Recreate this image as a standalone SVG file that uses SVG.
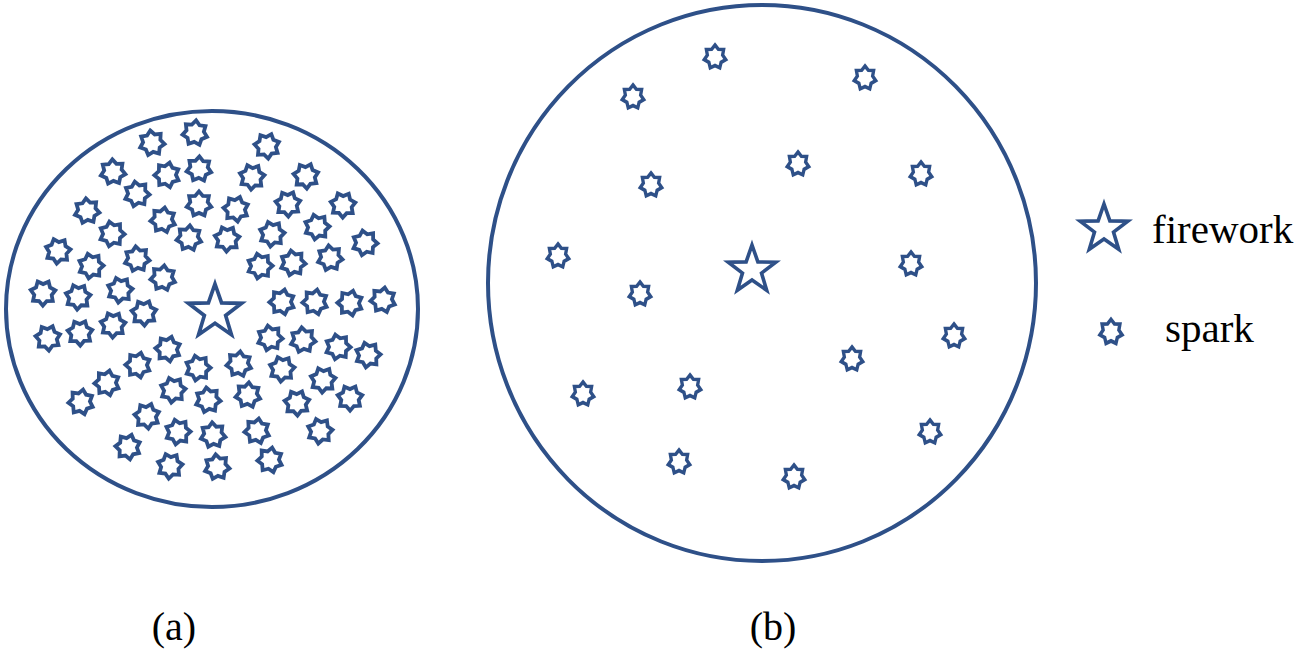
<svg xmlns="http://www.w3.org/2000/svg" xmlns:xlink="http://www.w3.org/1999/xlink" width="1300" height="650" viewBox="0 0 1300 650">
<style>
.ring{fill:none;stroke:#2E5088;stroke-width:4}
.sp{fill:#fff;stroke:#2E5088;stroke-width:3.6;stroke-linejoin:miter}
.fw{fill:#fff;stroke:#2E5088;stroke-width:3.6;stroke-linejoin:miter}
.lbl{font-family:"Liberation Serif","Times New Roman",serif;fill:#000}
</style>
<defs>
<path id="spark" d="M0,-12 L3.69,-7.66 L9.38,-7.48 L8.29,-1.89 L11.70,2.67 L6.64,5.30 L5.21,10.81 L0,8.5 L-5.21,10.81 L-6.64,5.30 L-11.70,2.67 L-8.29,-1.89 L-9.38,-7.48 L-3.69,-7.66 Z"/>
<path id="star5" d="M0,-25 L5.88,-8.09 L23.78,-7.73 L9.51,3.09 L14.69,20.23 L0,10 L-14.69,20.23 L-9.51,3.09 L-23.78,-7.73 L-5.88,-8.09 Z"/>
</defs>
<rect width="1300" height="650" fill="#fff"/>
<g id="panel-a">
<ellipse class="ring" cx="212" cy="309" rx="206" ry="198"/>
<g id="firework-a"><use xlink:href="#star5" class="fw" transform="translate(215,312) scale(1.12)" style="stroke-width:3.3"/></g>
<g id="sparks-a" class="sp">
<use xlink:href="#spark" transform="translate(195,133) rotate(5) scale(1.05)"/>
<use xlink:href="#spark" transform="translate(152,143) rotate(-8) scale(1.05)"/>
<use xlink:href="#spark" transform="translate(267,146) rotate(20) scale(1.05)"/>
<use xlink:href="#spark" transform="translate(113,172) rotate(-3) scale(1.05)"/>
<use xlink:href="#spark" transform="translate(167,175) rotate(12) scale(1.05)"/>
<use xlink:href="#spark" transform="translate(199,169) rotate(2) scale(1.05)"/>
<use xlink:href="#spark" transform="translate(252,177) rotate(30) scale(1.05)"/>
<use xlink:href="#spark" transform="translate(306,176) rotate(22) scale(1.05)"/>
<use xlink:href="#spark" transform="translate(137,194) rotate(-10) scale(1.05)"/>
<use xlink:href="#spark" transform="translate(199,204) rotate(0) scale(1.05)"/>
<use xlink:href="#spark" transform="translate(236,209) rotate(18) scale(1.05)"/>
<use xlink:href="#spark" transform="translate(288,204) rotate(24) scale(1.05)"/>
<use xlink:href="#spark" transform="translate(343,205) rotate(27) scale(1.05)"/>
<use xlink:href="#spark" transform="translate(87,211) rotate(-5) scale(1.05)"/>
<use xlink:href="#spark" transform="translate(163,220) rotate(8) scale(1.05)"/>
<use xlink:href="#spark" transform="translate(112,234) rotate(-12) scale(1.05)"/>
<use xlink:href="#spark" transform="translate(189,238) rotate(4) scale(1.05)"/>
<use xlink:href="#spark" transform="translate(227,239) rotate(28) scale(1.05)"/>
<use xlink:href="#spark" transform="translate(272,234) rotate(33) scale(1.05)"/>
<use xlink:href="#spark" transform="translate(317,227) rotate(36) scale(1.05)"/>
<use xlink:href="#spark" transform="translate(365,243) rotate(40) scale(1.05)"/>
<use xlink:href="#spark" transform="translate(58,251) rotate(-20) scale(1.05)"/>
<use xlink:href="#spark" transform="translate(91,266) rotate(-15) scale(1.05)"/>
<use xlink:href="#spark" transform="translate(137,259) rotate(-6) scale(1.05)"/>
<use xlink:href="#spark" transform="translate(163,278) rotate(6) scale(1.05)"/>
<use xlink:href="#spark" transform="translate(260,266) rotate(38) scale(1.05)"/>
<use xlink:href="#spark" transform="translate(293,263) rotate(42) scale(1.05)"/>
<use xlink:href="#spark" transform="translate(330,258) rotate(45) scale(1.05)"/>
<use xlink:href="#spark" transform="translate(43,293) rotate(-25) scale(1.05)"/>
<use xlink:href="#spark" transform="translate(78,297) rotate(-22) scale(1.05)"/>
<use xlink:href="#spark" transform="translate(120,290) rotate(-18) scale(1.05)"/>
<use xlink:href="#spark" transform="translate(144,313) rotate(-28) scale(1.05)"/>
<use xlink:href="#spark" transform="translate(282,302) rotate(12) scale(1.05)"/>
<use xlink:href="#spark" transform="translate(315,302) rotate(10) scale(1.05)"/>
<use xlink:href="#spark" transform="translate(350,303) rotate(14) scale(1.05)"/>
<use xlink:href="#spark" transform="translate(383,300) rotate(8) scale(1.05)"/>
<use xlink:href="#spark" transform="translate(48,338) rotate(-30) scale(1.05)"/>
<use xlink:href="#spark" transform="translate(80,333) rotate(-27) scale(1.05)"/>
<use xlink:href="#spark" transform="translate(113,325) rotate(-24) scale(1.05)"/>
<use xlink:href="#spark" transform="translate(168,349) rotate(-35) scale(1.05)"/>
<use xlink:href="#spark" transform="translate(270,338) rotate(-10) scale(1.05)"/>
<use xlink:href="#spark" transform="translate(303,340) rotate(-6) scale(1.05)"/>
<use xlink:href="#spark" transform="translate(338,347) rotate(-12) scale(1.05)"/>
<use xlink:href="#spark" transform="translate(368,355) rotate(-16) scale(1.05)"/>
<use xlink:href="#spark" transform="translate(138,365) rotate(-38) scale(1.05)"/>
<use xlink:href="#spark" transform="translate(198,368) rotate(-14) scale(1.05)"/>
<use xlink:href="#spark" transform="translate(239,364) rotate(6) scale(1.05)"/>
<use xlink:href="#spark" transform="translate(282,369) rotate(-20) scale(1.05)"/>
<use xlink:href="#spark" transform="translate(107,383) rotate(-40) scale(1.05)"/>
<use xlink:href="#spark" transform="translate(323,380) rotate(-22) scale(1.05)"/>
<use xlink:href="#spark" transform="translate(173,390) rotate(-18) scale(1.05)"/>
<use xlink:href="#spark" transform="translate(350,398) rotate(-26) scale(1.05)"/>
<use xlink:href="#spark" transform="translate(81,402) rotate(-42) scale(1.05)"/>
<use xlink:href="#spark" transform="translate(208,400) rotate(-8) scale(1.05)"/>
<use xlink:href="#spark" transform="translate(248,395) rotate(4) scale(1.05)"/>
<use xlink:href="#spark" transform="translate(297,403) rotate(-28) scale(1.05)"/>
<use xlink:href="#spark" transform="translate(147,416) rotate(-32) scale(1.05)"/>
<use xlink:href="#spark" transform="translate(178,432) rotate(-15) scale(1.05)"/>
<use xlink:href="#spark" transform="translate(213,435) rotate(-4) scale(1.05)"/>
<use xlink:href="#spark" transform="translate(257,431) rotate(8) scale(1.05)"/>
<use xlink:href="#spark" transform="translate(320,431) rotate(-18) scale(1.05)"/>
<use xlink:href="#spark" transform="translate(128,447) rotate(-35) scale(1.05)"/>
<use xlink:href="#spark" transform="translate(170,466) rotate(-20) scale(1.05)"/>
<use xlink:href="#spark" transform="translate(217,467) rotate(-6) scale(1.05)"/>
<use xlink:href="#spark" transform="translate(270,460) rotate(10) scale(1.05)"/>
</g>
<text class="lbl" x="174" y="640" font-size="40" text-anchor="middle">(a)</text>
</g>
<g id="panel-b">
<ellipse class="ring" cx="762" cy="283" rx="274" ry="278"/>
<g id="firework-b"><use xlink:href="#star5" class="fw" transform="translate(752,270)"/></g>
<g id="sparks-b" class="sp">
<use xlink:href="#spark" transform="translate(715,57) scale(0.92,1)"/>
<use xlink:href="#spark" transform="translate(633,97) scale(0.92,1)"/>
<use xlink:href="#spark" transform="translate(865,78) scale(0.92,1)"/>
<use xlink:href="#spark" transform="translate(798,164) scale(0.92,1)"/>
<use xlink:href="#spark" transform="translate(651,185) scale(0.92,1)"/>
<use xlink:href="#spark" transform="translate(921,174) scale(0.92,1)"/>
<use xlink:href="#spark" transform="translate(558,256) scale(0.92,1)"/>
<use xlink:href="#spark" transform="translate(911,264) scale(0.92,1)"/>
<use xlink:href="#spark" transform="translate(640,294) scale(0.92,1)"/>
<use xlink:href="#spark" transform="translate(954,336) scale(0.92,1)"/>
<use xlink:href="#spark" transform="translate(852,359) scale(0.92,1)"/>
<use xlink:href="#spark" transform="translate(583,394) scale(0.92,1)"/>
<use xlink:href="#spark" transform="translate(690,387) scale(0.92,1)"/>
<use xlink:href="#spark" transform="translate(930,432) scale(0.92,1)"/>
<use xlink:href="#spark" transform="translate(679,462) scale(0.92,1)"/>
<use xlink:href="#spark" transform="translate(794,477) scale(0.92,1)"/>
</g>
<text class="lbl" x="773" y="640" font-size="40" text-anchor="middle">(b)</text>
</g>
<g id="legend">
<g id="legend-firework">
<use xlink:href="#star5" class="fw" transform="translate(1104,229)"/>
<text class="lbl" x="1152" y="243" font-size="41">firework</text>
</g>
<g id="legend-spark">
<use xlink:href="#spark" class="sp" transform="translate(1111,332) scale(0.95,1.05)"/>
<text class="lbl" x="1165" y="342" font-size="41">spark</text>
</g>
</g>
</svg>
